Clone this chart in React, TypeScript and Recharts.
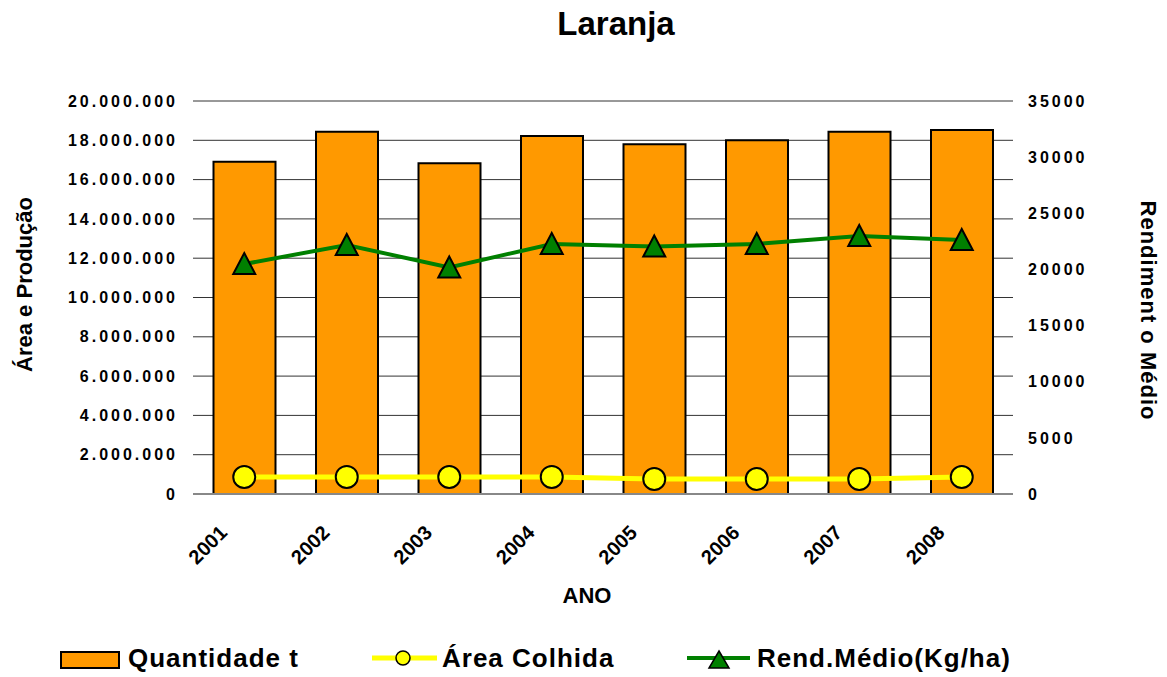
import React from 'react'
import { ComposedChart, Bar, Line, XAxis, YAxis, CartesianGrid, Label } from 'recharts'

const years = ['2001', '2002', '2003', '2004', '2005', '2006', '2007', '2008']
const quantidade = [16910000, 18440000, 16830000, 18220000, 17800000, 18000000, 18440000, 18520000]
const areaColhida = [865000, 870000, 865000, 870000, 765000, 765000, 765000, 865000]
const rendMedio = [20480, 22180, 20170, 22270, 22040, 22270, 22980, 22620]

const leftTicks = [0, 2000000, 4000000, 6000000, 8000000, 10000000, 12000000, 14000000, 16000000, 18000000, 20000000]
const rightTicks = [0, 5000, 10000, 15000, 20000, 25000, 30000, 35000]

const data = years.map((ano, i) => ({
  ano,
  quantidade: quantidade[i],
  area: areaColhida[i],
  rend: rendMedio[i],
}))

const FONT = '"Liberation Sans", Arial, sans-serif'
const ORANGE = '#FF9900'
const YELLOW = '#FFFF00'
const GREEN = '#008000'

const fmtDots = (v: number) => String(v).replace(/\B(?=(\d{3})+(?!\d))/g, '.')

const tickStyle = { fontSize: 16, fontWeight: 700, fill: '#000', fontFamily: FONT, letterSpacing: 3 }

// year labels sit a bit left of the category centre, like the Excel original
const YearTick = (props: any) => {
  const { x, y, payload } = props
  const tx = x - 16
  return (
    <text
      x={tx}
      y={y}
      transform={`rotate(-45 ${tx} ${y})`}
      textAnchor="end"
      fontSize={20}
      fontWeight={700}
      fontFamily={FONT}
      fill="#000"
    >
      {payload.value}
    </text>
  )
}

const Triangle = (props: any) => {
  const { cx, cy, index } = props
  if (cx == null || cy == null) return null
  return (
    <path
      key={`tri-${index}`}
      d={`M${cx},${cy - 11} L${cx + 11},${cy + 10} L${cx - 11},${cy + 10} Z`}
      fill={GREEN}
      stroke="#000"
      strokeWidth={2}
    />
  )
}

const LeftTitle = (props: any) => {
  const vb = props.viewBox
  const cx = 24
  const cy = vb.y + vb.height / 2 - 13
  return (
    <text
      x={cx}
      y={cy}
      transform={`rotate(-90 ${cx} ${cy})`}
      textAnchor="middle"
      dominantBaseline="central"
      fontSize={22}
      fontWeight={700}
      fontFamily={FONT}
      fill="#000"
    >
      Área e Produção
    </text>
  )
}

const RightTitle = (props: any) => {
  const vb = props.viewBox
  const cx = 1148
  const cy = vb.y + vb.height / 2 + 13
  return (
    <text
      x={cx}
      y={cy}
      transform={`rotate(90 ${cx} ${cy})`}
      textAnchor="middle"
      dominantBaseline="central"
      fontSize={22}
      fontWeight={700}
      fontFamily={FONT}
      letterSpacing={1}
      fill="#000"
    >
      Rendiment o Médio
    </text>
  )
}

const AnoTitle = (props: any) => {
  const vb = props.viewBox
  return (
    <text x={587} y={vb.y + 109} textAnchor="middle" fontSize={22} fontWeight={700} fontFamily={FONT} fill="#000">
      ANO
    </text>
  )
}

export default function App() {
  const legendText = { fontSize: 26, fontWeight: 700, fontFamily: FONT, letterSpacing: 1, fill: '#000' }
  return (
    <div style={{ position: 'absolute', left: 0, top: 0, width: 1167, height: 677, background: '#fff' }}>
      <ComposedChart
        width={1167}
        height={677}
        data={data}
        margin={{ top: 101, right: 0, bottom: 0, left: 0 }}
        barCategoryGap="20%"
      >
        <CartesianGrid vertical={false} horizontal stroke="#333" strokeWidth={1} yAxisId="left" />
        <XAxis
          dataKey="ano"
          height={183}
          tick={<YearTick />}
          tickLine={false}
          tickSize={0}
          tickMargin={40}
          axisLine={{ stroke: '#888', strokeWidth: 2 }}
          interval={0}
        >
          <Label content={<AnoTitle />} />
        </XAxis>
        <YAxis
          yAxisId="left"
          width={193}
          domain={[0, 20000000]}
          ticks={leftTicks}
          tickFormatter={fmtDots}
          tick={tickStyle}
          tickLine={false}
          axisLine={false}
          tickMargin={9}
          interval={0}
        >
          <Label content={<LeftTitle />} />
        </YAxis>
        <YAxis
          yAxisId="right"
          orientation="right"
          width={154}
          domain={[0, 35000]}
          ticks={rightTicks}
          tick={{ ...tickStyle, textAnchor: 'start' }}
          tickLine={false}
          axisLine={false}
          tickMargin={9}
          interval={0}
        >
          <Label content={<RightTitle />} />
        </YAxis>
        <Bar
          yAxisId="left"
          dataKey="quantidade"
          name="Quantidade t"
          fill={ORANGE}
          stroke="#000"
          strokeWidth={2}
          isAnimationActive={false}
        />
        <Line
          yAxisId="left"
          type="linear"
          dataKey="area"
          name="Área Colhida"
          stroke={YELLOW}
          strokeWidth={5}
          dot={{ r: 11, fill: YELLOW, stroke: '#000', strokeWidth: 2 }}
          activeDot={false}
          isAnimationActive={false}
        />
        <Line
          yAxisId="right"
          type="linear"
          dataKey="rend"
          name="Rend.Médio(Kg/ha)"
          stroke={GREEN}
          strokeWidth={4}
          dot={<Triangle />}
          activeDot={false}
          isAnimationActive={false}
        />
      </ComposedChart>
      <svg
        width={1167}
        height={677}
        style={{ position: 'absolute', left: 0, top: 0, pointerEvents: 'none' }}
      >
        <text x={616} y={35} textAnchor="middle" fontSize={33} fontWeight={700} fontFamily={FONT} fill="#000">
          Laranja
        </text>
        <rect x={61} y={652} width={58} height={16} fill={ORANGE} stroke="#000" strokeWidth={2} />
        <text x={128} y={667} {...legendText}>Quantidade t</text>
        <line x1={372} y1={658} x2={437} y2={658} stroke={YELLOW} strokeWidth={5} />
        <circle cx={403} cy={658} r={7} fill={YELLOW} stroke="#000" strokeWidth={1.5} />
        <text x={442} y={667} {...legendText}>Área Colhida</text>
        <line x1={687} y1={658} x2={750} y2={658} stroke={GREEN} strokeWidth={4} />
        <path d="M719,651 L729,668 L709,668 Z" fill={GREEN} stroke="#000" strokeWidth={1.5} />
        <text x={757} y={667} {...legendText}>Rend.Médio(Kg/ha)</text>
      </svg>
    </div>
  )
}
